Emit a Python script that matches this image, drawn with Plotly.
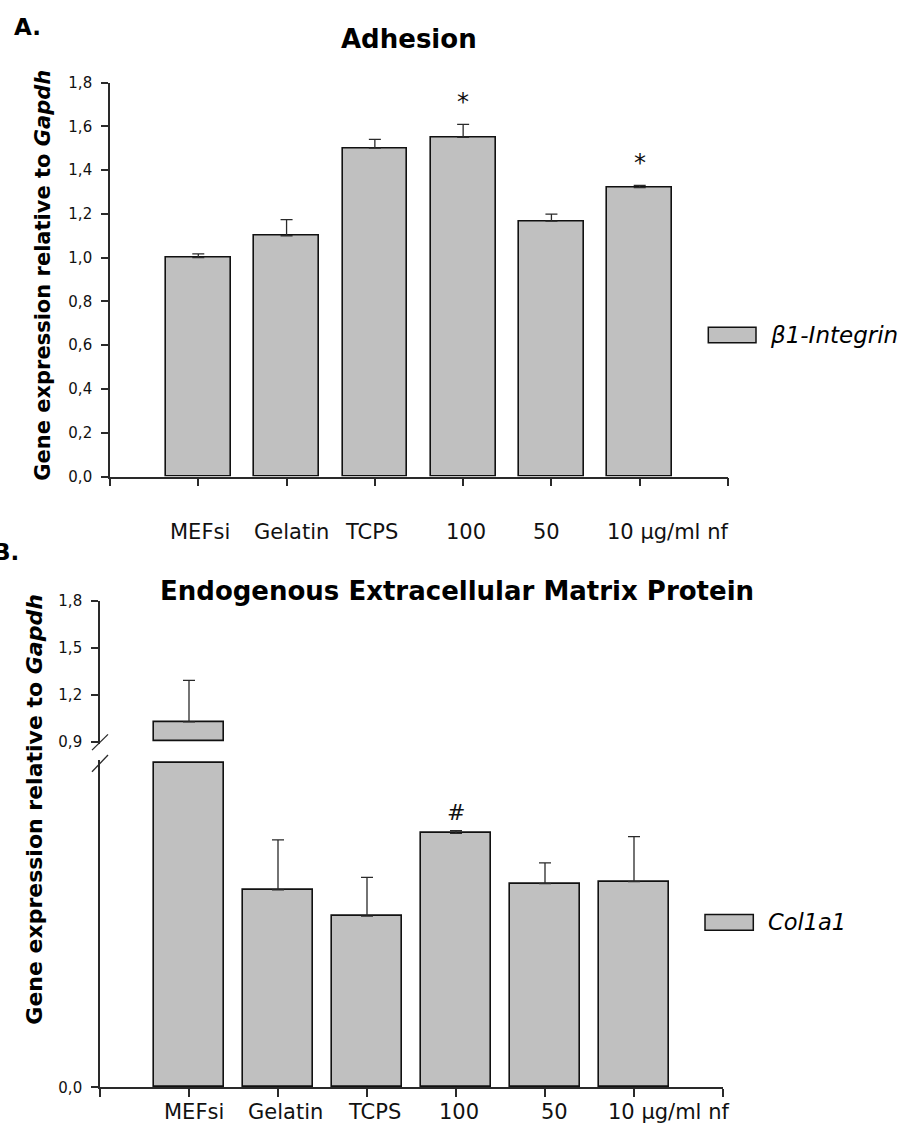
import plotly.graph_objects as go

W, H = 908, 1142

# ---------------- data ----------------
categories = ["MEFsi", "Gelatin", "TCPS", "100", "50", "10 µg/ml nf"]

# Panel A: beta1-Integrin (Adhesion)
a_series = "β1-Integrin"
a_values = [1.00, 1.10, 1.50, 1.55, 1.167, 1.32]
a_errors = [0.017, 0.074, 0.040, 0.059, 0.032, 0.010]
a_marks = ["", "", "", "*", "", "*"]
a_yticks = [0.0, 0.2, 0.4, 0.6, 0.8, 1.0, 1.2, 1.4, 1.6, 1.8]

# Panel B: Col1a1 (Endogenous ECM protein), broken axis
b_series = "Col1a1"
b_values = [1.026, 0.0609, 0.0528, 0.0783, 0.0628, 0.0634]
b_errors = [0.267, 0.0154, 0.0119, 0.0008, 0.0064, 0.0139]
b_marks = ["", "", "", "#", "", ""]
b_low_break = 0.10      # top of lower segment
b_up_break = 0.90       # bottom of upper segment
b_low_ticks = [0.0]
b_up_ticks = [0.9, 1.2, 1.5, 1.8]

# ---------------- style ----------------
BAR_FILL = "#c0c0c0"
EDGE = "#111111"
AXC = "#2a2a2a"
TICK_FONT = dict(family="DejaVu Sans, Verdana, sans-serif", size=15, color="#111")
LAB_FONT = dict(family="DejaVu Sans, Verdana, sans-serif", size=21, color="#111")
a_label_shift = [2, 5, -3, 3, -5, 28]
b_label_shift = [5, 7, 7, 3, 9, 34]
ERR_STYLE = dict(color=AXC, thickness=1.3, width=6)


def px(x):
    return x / W


def py(y):
    return 1 - y / H


positions = list(range(1, len(categories) + 1))

fig = go.Figure()

# Panel A bars
fig.add_trace(go.Bar(
    x=positions, y=a_values, width=0.733, xaxis="x", yaxis="y",
    marker=dict(color=BAR_FILL, line=dict(color=EDGE, width=1.6)),
    error_y=dict(type="data", symmetric=False, array=a_errors,
                 arrayminus=[0] * len(a_errors), **ERR_STYLE),
    showlegend=False,
))

# Panel B lower segment
b_low_vals = [min(v, b_low_break) for v in b_values]
fig.add_trace(go.Bar(
    x=positions, y=b_low_vals, width=0.795, xaxis="x2", yaxis="y2",
    marker=dict(color=BAR_FILL, line=dict(color=EDGE, width=1.6)),
    showlegend=False,
))
low_x = [p for p, v in zip(positions, b_values) if v < b_low_break]
low_v = [v for v in b_values if v < b_low_break]
low_e = [e for v, e in zip(b_values, b_errors) if v < b_low_break]
fig.add_trace(go.Scatter(
    x=low_x, y=low_v, mode="markers", xaxis="x2", yaxis="y2",
    marker=dict(size=1, opacity=0),
    error_y=dict(type="data", symmetric=False, array=low_e,
                 arrayminus=[0] * len(low_e), **ERR_STYLE),
    showlegend=False, hoverinfo="skip",
))

# Panel B upper segment (only bars above the break)
up_x = [p for p, v in zip(positions, b_values) if v > b_up_break]
up_v = [v for v in b_values if v > b_up_break]
up_e = [e for v, e in zip(b_values, b_errors) if v > b_up_break]
fig.add_trace(go.Bar(
    x=up_x, y=[v - b_up_break for v in up_v], base=b_up_break, width=0.795,
    xaxis="x2", yaxis="y3",
    marker=dict(color=BAR_FILL, line=dict(color=EDGE, width=1.6)),
    showlegend=False,
))
fig.add_trace(go.Scatter(
    x=up_x, y=up_v, mode="markers", xaxis="x2", yaxis="y3",
    marker=dict(size=1, opacity=0),
    error_y=dict(type="data", symmetric=False, array=up_e,
                 arrayminus=[0] * len(up_e), **ERR_STYLE),
    showlegend=False, hoverinfo="skip",
))

# ---------------- axes geometry (pixel based) ----------------
A_LEFT, A_RIGHT, A_TOP, A_BOT = 110, 728, 74.7, 475
B_LEFT, B_RIGHT = 100, 723
B_ZERO, B_LOWBRK_PX, B_LOW_DOM_TOP = 1095.7, 766, 763
B_UP_TOP, B_UPBRK_PX, B_UP_DOM_BOT = 601.7, 744.3, 747

low_max = b_low_break * (B_ZERO - B_LOW_DOM_TOP) / (B_ZERO - B_LOWBRK_PX)
up_max = b_up_ticks[-1]
up_min = up_max - (up_max - b_up_break) * (B_UP_DOM_BOT - B_UP_TOP) / (B_UPBRK_PX - B_UP_TOP)

common_x = dict(range=[0, len(categories) + 1], tickvals=list(range(0, len(categories) + 2)),
                showticklabels=False, ticks="outside", ticklen=8, tickwidth=1.5,
                tickcolor=AXC, showline=True, linecolor=AXC, linewidth=1.6,
                showgrid=False, zeroline=False, fixedrange=True)
common_y = dict(ticks="outside", ticklen=7, tickwidth=1.5, tickcolor=AXC,
                showline=True, linecolor=AXC, linewidth=1.6, showgrid=False,
                zeroline=False, tickformat=".1f", tickfont=TICK_FONT,
                ticklabelstandoff=6, fixedrange=True)

fig.update_layout(
    width=W, height=H, margin=dict(l=0, r=0, t=0, b=0),
    paper_bgcolor="white", plot_bgcolor="white", separators=",.",
    bargap=0,
    xaxis=dict(domain=[px(A_LEFT), px(A_RIGHT)], anchor="y", **common_x),
    yaxis=dict(domain=[py(A_BOT), py(A_TOP)], anchor="x", range=[0, a_yticks[-1]],
               tickvals=a_yticks, **common_y),
    xaxis2=dict(domain=[px(B_LEFT), px(B_RIGHT)], anchor="y2", **common_x),
    yaxis2=dict(domain=[py(B_ZERO), py(B_LOW_DOM_TOP)], anchor="x2", range=[0, low_max],
                tickvals=b_low_ticks, **common_y),
    yaxis3=dict(domain=[py(B_UP_DOM_BOT), py(B_UP_TOP)], anchor="x2", range=[up_min, up_max],
                tickvals=b_up_ticks, **common_y),
)

ann = []
# category labels
for i, c in enumerate(categories):
    ann.append(dict(x=positions[i], y=py(531), xref="x", yref="paper", text=c,
                    showarrow=False, xanchor="center", yanchor="middle",
                    xshift=a_label_shift[i], font=LAB_FONT))
    ann.append(dict(x=positions[i], y=py(1121), xref="x2", yref="paper", text=c,
                    showarrow=False, xanchor="center", yanchor="middle",
                    xshift=b_label_shift[i], font=LAB_FONT))

# significance marks
for i, m in enumerate(a_marks):
    if m:
        ann.append(dict(x=positions[i], y=a_values[i] + a_errors[i], xref="x", yref="y",
                        text=m, showarrow=False, yanchor="bottom", yshift=6,
                        font=dict(family="DejaVu Sans", size=24, color="#111")))
for i, m in enumerate(b_marks):
    if m:
        ann.append(dict(x=positions[i], y=b_values[i] + b_errors[i], xref="x2", yref="y2",
                        text=m, showarrow=False, yanchor="bottom", yshift=4,
                        font=dict(family="DejaVu Sans", size=22, color="#111")))

TITLE_FONT = dict(family="DejaVu Sans, Verdana, sans-serif", size=26, color="#000")
ann += [
    dict(x=px(409), y=py(30), xref="paper", yref="paper", text="<b>Adhesion</b>",
         showarrow=False, xanchor="center", yanchor="middle", font=TITLE_FONT),
    dict(x=px(456.5), y=py(591), xref="paper", yref="paper",
         text="<b>Endogenous Extracellular Matrix Protein</b>",
         showarrow=False, xanchor="center", yanchor="middle", font=TITLE_FONT),
    dict(x=px(12), y=py(18.5), xref="paper", yref="paper", text="<b>A.</b>",
         showarrow=False, xanchor="left", yanchor="middle",
         font=dict(family="DejaVu Sans", size=23, color="#000")),
    dict(x=px(21), y=py(552), xref="paper", yref="paper", text="<b>B.</b>",
         showarrow=False, xanchor="right", yanchor="middle",
         font=dict(family="DejaVu Sans", size=23, color="#000")),
    dict(x=px(43), y=py(271), xref="paper", yref="paper",
         text="<b>Gene expression relative to <i>Gapdh</i></b>", textangle=-90,
         showarrow=False, xanchor="center", yanchor="middle",
         font=dict(family="DejaVu Sans, Verdana, sans-serif", size=21, color="#000")),
    dict(x=px(35), y=py(813.5), xref="paper", yref="paper",
         text="<b>Gene expression relative to <i>Gapdh</i></b>", textangle=-90,
         showarrow=False, xanchor="center", yanchor="middle",
         font=dict(family="DejaVu Sans, Verdana, sans-serif", size=22, color="#000")),
    dict(x=px(768), y=py(331), xref="paper", yref="paper", text="<i>" + a_series + "</i>",
         showarrow=False, xanchor="left", yanchor="middle",
         font=dict(family="DejaVu Sans, Verdana, sans-serif", size=23, color="#000")),
    dict(x=px(766), y=py(928), xref="paper", yref="paper", text="<i>" + b_series + "</i>",
         showarrow=False, xanchor="left", yanchor="middle",
         font=dict(family="DejaVu Sans, Verdana, sans-serif", size=22.5, color="#000")),
]
fig.update_layout(annotations=ann)

shapes = [
    # legend swatches
    dict(type="rect", xref="paper", yref="paper", x0=px(708.3), x1=px(756), y0=py(339), y1=py(323.3),
         fillcolor=BAR_FILL, line=dict(color=EDGE, width=1.5)),
    dict(type="rect", xref="paper", yref="paper", x0=px(705), x1=px(753.3), y0=py(936), y1=py(920),
         fillcolor=BAR_FILL, line=dict(color=EDGE, width=1.5)),
    # axis break marks
    dict(type="line", xref="paper", yref="paper", x0=px(92), y0=py(753), x1=px(108), y1=py(737),
         line=dict(color=AXC, width=1.3)),
    dict(type="line", xref="paper", yref="paper", x0=px(92), y0=py(775), x1=px(108), y1=py(758),
         line=dict(color=AXC, width=1.3)),
]
fig.update_layout(shapes=shapes)

fig.write_html("out.html")
